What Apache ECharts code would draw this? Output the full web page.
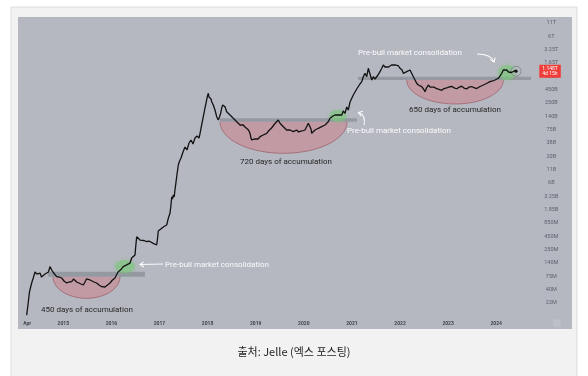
<!DOCTYPE html>
<html>
<head>
<meta charset="utf-8">
<script src="https://cdn.jsdelivr.net/npm/echarts@6/dist/echarts.min.js"></script>
<style>
html, body { margin: 0; padding: 0; background: #fff; }
#chart { width: 588px; height: 376px; }
</style>
</head>
<body>
<div id="chart"></div>
<script>
// x = decimal year, y = market cap in $M
const dates = [
  2014.239, 2014.266, 2014.297, 2014.322, 2014.349, 2014.376, 2014.412, 2014.432, 2014.453, 2014.480,
  2014.516, 2014.547, 2014.584, 2014.620, 2014.661, 2014.692, 2014.723, 2014.751, 2014.780, 2014.817,
  2014.863, 2014.911, 2014.967, 2015.015, 2015.071, 2015.119, 2015.175, 2015.212, 2015.243, 2015.279,
  2015.312, 2015.368, 2015.416, 2015.451, 2015.482, 2015.520, 2015.555, 2015.590, 2015.638, 2015.694,
  2015.742, 2015.798, 2015.836, 2015.867, 2015.919, 2015.971, 2016.023, 2016.075, 2016.116, 2016.143,
  2016.189, 2016.247, 2016.283, 2016.318, 2016.356, 2016.387, 2016.422, 2016.455, 2016.491, 2016.507,
  2016.526, 2016.538, 2016.563, 2016.595, 2016.636, 2016.678, 2016.734, 2016.782, 2016.823, 2016.871,
  2016.906, 2016.942, 2016.958, 2016.975, 2017.010, 2017.046, 2017.094, 2017.150, 2017.183, 2017.218,
  2017.239, 2017.254, 2017.270, 2017.287, 2017.306, 2017.322, 2017.358, 2017.391, 2017.412, 2017.447,
  2017.489, 2017.530, 2017.572, 2017.614, 2017.655, 2017.697, 2017.738, 2017.780, 2017.822, 2017.843,
  2017.873, 2017.911, 2017.946, 2017.981, 2017.998, 2018.015, 2018.029, 2018.050, 2018.071, 2018.085,
  2018.118, 2018.154, 2018.189, 2018.222, 2018.247, 2018.272, 2018.293, 2018.314, 2018.362, 2018.397,
  2018.424, 2018.466, 2018.497, 2018.534, 2018.570, 2018.605, 2018.632, 2018.674, 2018.705, 2018.742,
  2018.777, 2018.813, 2018.850, 2018.881, 2018.902, 2018.917, 2018.950, 2018.985, 2019.021, 2019.048,
  2019.090, 2019.131, 2019.158, 2019.194, 2019.229, 2019.266, 2019.297, 2019.329, 2019.366, 2019.401,
  2019.437, 2019.470, 2019.505, 2019.536, 2019.574, 2019.609, 2019.644, 2019.671, 2019.713, 2019.744,
  2019.782, 2019.817, 2019.852, 2019.890, 2019.921, 2019.963, 2019.990, 2020.025, 2020.060, 2020.094,
  2020.129, 2020.150, 2020.164, 2020.198, 2020.233, 2020.264, 2020.302, 2020.337, 2020.372, 2020.410,
  2020.441, 2020.472, 2020.509, 2020.545, 2020.580, 2020.607, 2020.649, 2020.684, 2020.717, 2020.753,
  2020.788, 2020.821, 2020.857, 2020.892, 2020.925, 2020.961, 2020.996, 2021.029, 2021.044, 2021.100,
  2021.154, 2021.169, 2021.204, 2021.237, 2021.272, 2021.308, 2021.341, 2021.376, 2021.412, 2021.445,
  2021.480, 2021.516, 2021.543, 2021.584, 2021.620, 2021.653, 2021.688, 2021.724, 2021.761, 2021.792,
  2021.823, 2021.861, 2021.896, 2021.931, 2021.969, 2022.000, 2022.042, 2022.069, 2022.104, 2022.139,
  2022.177, 2022.208, 2022.239, 2022.277, 2022.312, 2022.343, 2022.381, 2022.416, 2022.451, 2022.489,
  2022.520, 2022.551, 2022.588, 2022.624, 2022.659, 2022.707, 2022.763, 2022.811, 2022.867, 2022.915,
  2022.971, 2023.019, 2023.075, 2023.123, 2023.179, 2023.227, 2023.282, 2023.330, 2023.387, 2023.434,
  2023.491, 2023.538, 2023.594, 2023.663, 2023.732, 2023.798, 2023.871, 2023.923, 2023.975, 2024.010,
  2024.043, 2024.079, 2024.114, 2024.148, 2024.183, 2024.218, 2024.256, 2024.287, 2024.318, 2024.356,
  2024.391, 2024.412
];
const capM = [
  12.5, 20.0, 36.8, 46.6, 58.9, 71.0, 94.1, 98.6, 85.6, 81.7,
  89.7, 74.4, 75.5, 85.6, 78.0, 94.1, 121, 113, 95.4, 85.6,
  75.5, 74.4, 71.0, 61.7, 56.2, 58.9, 59.7, 67.8, 64.7, 58.9,
  56.2, 53.6, 51.1, 58.9, 67.8, 71.0, 64.7, 59.7, 58.9, 56.2,
  51.1, 47.2, 45.5, 46.6, 51.1, 56.2, 64.7, 71.0, 85.6, 95.4,
  103, 121, 125, 131, 137, 143, 181, 193, 209, 318,
  492, 533, 485, 421, 431, 412, 389, 402, 375, 361,
  361, 333, 442, 643, 706, 729, 794, 851, 1165, 1473,
  2173, 3206, 2879, 3473, 3162, 4389, 8186, 14170, 16540, 19670,
  26050, 32930, 28620, 39720, 45720, 37900, 50220, 55140, 50220, 62580,
  88120, 136300, 204800, 298100, 359400, 408000, 343000, 376700, 312400, 275300,
  235800, 186500, 136300, 116800, 134400, 159800, 204800, 235800, 217700, 172300,
  169800, 147600, 154700, 126400, 122300, 107800, 106300, 92370, 101400, 92370,
  84100, 79130, 73060, 62580, 50220, 45720, 42220, 47920, 49510, 47920,
  53360, 52620, 57800, 59170, 62580, 69700, 73060, 80250, 85290, 99060,
  107800, 116800, 99980, 96760, 85290, 80250, 73060, 76560, 73060, 69700,
  67460, 73060, 73060, 66510, 67460, 69700, 67460, 73060, 79130, 99980,
  99980, 76560, 62580, 57800, 73060, 76560, 79130, 84100, 85290, 88120,
  92370, 101400, 107800, 126400, 136300, 140800, 147600, 147600, 147600, 154700,
  147600, 178000, 159800, 214700, 186500, 271400, 255400, 376700, 347800, 499100,
  602000, 652100, 703000, 888300, 1041000, 888300, 1317000, 1216000, 761000, 888300,
  797500, 823900, 961800, 1123000, 1317000, 1537000, 1399000, 1317000, 1399000, 1419000,
  1537000, 1664000, 1537000, 1419000, 1467000, 1317000, 1216000, 1041000, 1107000, 1123000,
  1160000, 1216000, 1056000, 888300, 761000, 661200, 602000, 574300, 555800, 499100,
  439900, 523100, 602000, 548100, 500000, 545000, 505000, 487600, 470000, 510000,
  525000, 548000, 565000, 528000, 505000, 540000, 570000, 520000, 500000, 545000,
  560000, 530000, 510000, 561200, 602000, 645900, 703000, 726100, 761000, 797500,
  823900, 918000, 1041000, 1216000, 1188000, 1216000, 1107000, 1041000, 1081000, 1123000,
  1188000, 1148000
];

// right axis tick labels, bottom to top (equal log steps)
const yLabels = ['22M', '40M', '75M', '140M', '250M', '450M', '850M', '1.85B', '3.25B', '6B', '11B',
  '20B', '38B', '75B', '140B', '250B', '450B', '850B', '1.65T', '3.25T', '6T', '11T'];
const yBottomM = 22, yTopM = 11e6;
const xYears = [2015, 2016, 2017, 2018, 2019, 2020, 2021, 2022, 2023, 2024];
const xFirstLabel = 'Apr';
const priceTag = ['1.148T', '4d 15h'];

// annotations in data units: [fromYear, toYear, capLow/top, capHigh/bottom]
const bands = [[2014.682, 2016.699, 75.5, 95.4], [2018.258, 2021.106, 107800, 126400], [2021.127, 2024.723, 761000, 888300]];
const bowls = [[2014.786, 2016.179, 75.5, 27.4], [2018.258, 2020.899, 107800, 24500], [2022.139, 2024.148, 761000, 247100]];
const greens = [[2016.077, 2016.491, 89.7, 165], [2020.529, 2020.890, 107800, 186500], [2024.043, 2024.412, 761000, 1537000]];

const R = Math.pow(yTopM / yBottomM, 1 / (yLabels.length - 1));
const toT = v => Math.log(v / yBottomM) / Math.log(R);

const chart = echarts.init(document.getElementById('chart'));

function ellipsePts(cx, cy, rx, ry, from, to, n) {
  const pts = [];
  for (let k = 0; k <= n; k++) {
    const a = from + (to - from) * k / n;
    pts.push([cx + rx * Math.cos(a), cy + ry * Math.sin(a)]);
  }
  return pts;
}

// hand drawn white arrows (pixel layout)
function arrow(p0, cp, tip) {
  const dx = tip[0] - cp[0], dy = tip[1] - cp[1];
  const len = Math.sqrt(dx * dx + dy * dy);
  const ux = dx / len, uy = dy / len;
  const arm = (ang) => {
    const c = Math.cos(ang), s = Math.sin(ang);
    return [tip[0] - 4.5 * (ux * c - uy * s), tip[1] - 4.5 * (ux * s + uy * c)];
  };
  const st = { stroke: 'rgba(255,255,255,0.95)', lineWidth: 1.1, fill: null };
  return [
    { type: 'bezierCurve', z: 20, shape: { x1: p0[0], y1: p0[1], x2: tip[0], y2: tip[1], cpx1: cp[0], cpy1: cp[1] }, style: st },
    { type: 'polyline', z: 20, shape: { points: [arm(0.6), tip, arm(-0.6)] }, style: st }
  ];
}

const whiteText = (x, y, t) => ({ type: 'text', z: 20, x: x, y: y,
  style: { text: t, fill: 'rgba(255,255,255,0.95)', font: '8px Roboto', verticalAlign: 'middle' } });
const darkText = (x, y, t) => ({ type: 'text', z: 20, x: x, y: y,
  style: { text: t, fill: '#262626', font: '8px Roboto', verticalAlign: 'middle' } });

const last = dates.length - 1;

chart.setOption({
  animation: false,
  grid: { left: 27.2, right: 55.7, top: 16.33, bottom: 46.33, outerBoundsMode: 'none' },
  xAxis: {
    type: 'value', min: 2014.25, max: 2024.75, interval: 0.25,
    axisLine: { show: false }, axisTick: { show: false }, splitLine: { show: false },
    axisLabel: {
      inside: true, margin: 3.5, fontSize: 5, fontWeight: 'bold', color: '#40444c', fontFamily: 'Roboto',
      formatter: v => {
        if (Math.abs(v - 2014.25) < 1e-6) return xFirstLabel;
        const y = Math.round(v);
        return Math.abs(v - y) < 1e-6 && xYears.indexOf(y) >= 0 ? String(y) : '';
      }
    }
  },
  yAxis: {
    type: 'value', position: 'right', min: -2, max: 21.5, interval: 1,
    axisLine: { show: false }, axisTick: { show: false }, splitLine: { show: false },
    axisLabel: {
      margin: 19, align: 'center', fontSize: 5.5, color: '#5b5f69', fontFamily: 'Roboto',
      formatter: v => {
        const i = Math.round(v);
        return Math.abs(v - i) < 1e-6 ? (yLabels[i] || '') : '';
      }
    }
  },
  graphic: [
    { type: 'rect', z: -10, shape: { x: 11, y: 7, width: 566, height: 380 }, style: { fill: '#f2f2f2', stroke: '#dddddd', lineWidth: 1 } },
    { type: 'rect', z: -9, shape: { x: 18, y: 17, width: 554, height: 312 }, style: { fill: '#b5b8c0' } },
    { type: 'circle', z: -8, shape: { cx: 557, cy: 323, r: 4 }, style: { fill: 'rgba(255,255,255,0.12)' } },
    { type: 'text', z: 20, x: 294, y: 352,
      style: { text: '출처: Jelle (엑스 포스팅)', fill: '#1e1e1e', font: '11px "Noto Sans CJK KR"', align: 'center', verticalAlign: 'middle' } },
    whiteText(165, 265, 'Pre-bull market consolidation'),
    whiteText(347, 131, 'Pre-bull market consolidation'),
    whiteText(358, 53, 'Pre-bull market consolidation'),
    darkText(41, 310, '450 days of accumulation'),
    darkText(240, 161.5, '720 days of accumulation'),
    darkText(409, 110, '650 days of accumulation'),
    ...arrow([163, 264], [152, 264.2], [140, 264.5]),
    ...arrow([364, 125], [366, 115], [358.5, 112.5]),
    ...arrow([477, 54], [491, 54], [494, 62])
  ],
  series: [
    {
      type: 'custom', z: 1, silent: true, encode: { x: [0, 1], y: [2, 3] },
      data: bowls.map(b => [b[0], b[1], toT(b[2]), toT(b[3])]),
      renderItem: (params, api) => {
        const a = api.coord([api.value(0), api.value(2)]);
        const b = api.coord([api.value(1), api.value(2)]);
        const c = api.coord([api.value(0), api.value(3)]);
        const cx = (a[0] + b[0]) / 2, rx = (b[0] - a[0]) / 2, ry = c[1] - a[1];
        const pts = ellipsePts(cx, a[1], rx, ry, Math.PI, 0, 48);
        return { type: 'group', children: [
          { type: 'polygon', shape: { points: pts }, style: { fill: 'rgba(208,126,138,0.52)' } },
          { type: 'polyline', shape: { points: pts }, style: { stroke: 'rgba(145,66,78,0.6)', lineWidth: 0.9, fill: null } }
        ] };
      }
    },
    {
      type: 'custom', z: 2, silent: true, encode: { x: [0, 1], y: [2, 3] },
      data: bands.map(b => [b[0], b[1], toT(b[2]), toT(b[3])]),
      renderItem: (params, api) => {
        const p0 = api.coord([api.value(0), api.value(3)]);
        const p1 = api.coord([api.value(1), api.value(2)]);
        return { type: 'rect', shape: { x: p0[0], y: p0[1], width: p1[0] - p0[0], height: p1[1] - p0[1] },
          style: { fill: 'rgba(128,131,140,0.6)' } };
      }
    },
    {
      type: 'custom', z: 3, silent: true, encode: { x: [0, 1], y: [2, 3] },
      data: greens.map(g => [g[0], g[1], toT(g[2]), toT(g[3])]),
      renderItem: (params, api) => {
        const a = api.coord([api.value(0), api.value(3)]);
        const b = api.coord([api.value(1), api.value(2)]);
        const pts = ellipsePts((a[0] + b[0]) / 2, (a[1] + b[1]) / 2, (b[0] - a[0]) / 2, (b[1] - a[1]) / 2, 0, Math.PI * 2, 40);
        return { type: 'polygon', shape: { points: pts },
          style: { fill: 'rgba(122,198,122,0.55)', shadowBlur: 4, shadowColor: 'rgba(122,198,122,0.7)' } };
      }
    },
    {
      type: 'line', z: 5, silent: true, showSymbol: false, smooth: false,
      data: dates.map((d, i) => [d, toT(capM[i])]),
      lineStyle: { color: '#121212', width: 1.3 },
      markPoint: {
        silent: true, label: { show: false },
        data: [
          { coord: [dates[last], toT(capM[last])], symbol: 'circle', symbolSize: 10,
            itemStyle: { color: 'rgba(190,192,198,0.35)', borderColor: '#7c7f87', borderWidth: 0.8 } },
          { coord: [dates[last], toT(capM[last])], symbol: 'circle', symbolSize: 3.2, itemStyle: { color: '#141414' } }
        ]
      },
      markLine: {
        silent: true, symbol: 'none',
        lineStyle: { color: 'transparent', width: 0 },
        label: {
          show: true, position: 'end', distance: 7, formatter: priceTag.join('\n'),
          backgroundColor: '#ef3e3a', color: '#fff', fontSize: 5, lineHeight: 5.5, padding: [1, 3], fontFamily: 'Roboto'
        },
        data: [{ yAxis: toT(capM[last]) }]
      }
    }
  ]
});
</script>
</body>
</html>
